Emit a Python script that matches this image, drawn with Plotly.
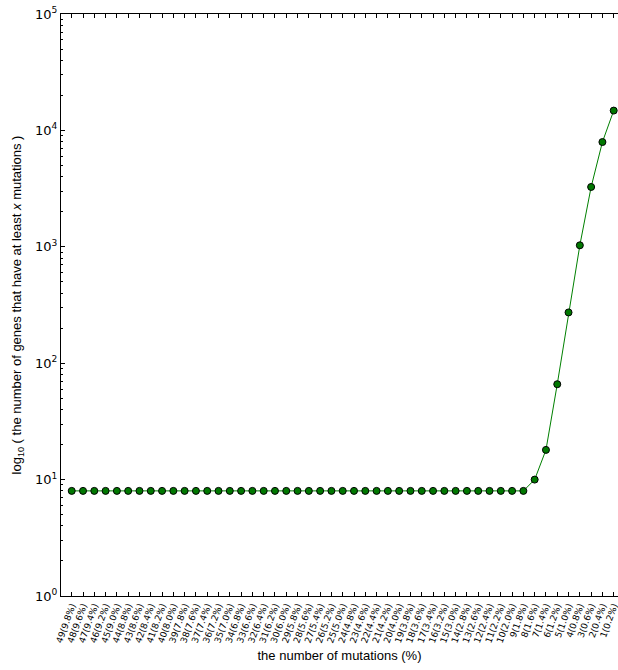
import plotly.graph_objects as go

mutations = [49, 48, 47, 46, 45, 44, 43, 42, 41, 40, 39, 38, 37, 36, 35, 34, 33, 32, 31, 30,
             29, 28, 27, 26, 25, 24, 23, 22, 21, 20, 19, 18, 17, 16, 15, 14, 13, 12, 11, 10,
             9, 8, 7, 6, 5, 4, 3, 2, 1]
percents = ["9.8", "9.6", "9.4", "9.2", "9.0", "8.8", "8.6", "8.4", "8.2", "8.0",
            "7.8", "7.6", "7.4", "7.2", "7.0", "6.8", "6.6", "6.4", "6.2", "6.0",
            "5.8", "5.6", "5.4", "5.2", "5.0", "4.8", "4.6", "4.4", "4.2", "4.0",
            "3.8", "3.6", "3.4", "3.2", "3.0", "2.8", "2.6", "2.4", "2.2", "2.0",
            "1.8", "1.6", "1.4", "1.2", "1.0", "0.8", "0.6", "0.4", "0.2"]
gene_counts = [8, 8, 8, 8, 8, 8, 8, 8, 8, 8,
               8, 8, 8, 8, 8, 8, 8, 8, 8, 8,
               8, 8, 8, 8, 8, 8, 8, 8, 8, 8,
               8, 8, 8, 8, 8, 8, 8, 8, 8, 8,
               8, 10, 18, 66, 273, 1030, 3265, 7940, 14800]

labels = [f"{m}({p}%)" for m, p in zip(mutations, percents)]

y_tickvals = [1, 10, 100, 1000, 10000, 100000]
y_ticktext = ["10<sup>0</sup>", "10<sup>1</sup>", "10<sup>2</sup>",
              "10<sup>3</sup>", "10<sup>4</sup>", "10<sup>5</sup>"]
minor_vals = [m * 10 ** e for e in range(5) for m in range(2, 10)]

fig = go.Figure()
fig.add_trace(go.Scatter(
    x=labels, y=gene_counts, mode="lines+markers",
    line=dict(color="#008000", width=1),
    marker=dict(color="#007800", size=7, line=dict(color="black", width=1)),
    showlegend=False, cliponaxis=False,
))

fig.update_layout(
    width=618, height=670,
    margin=dict(l=61, r=0, t=14, b=74),
    paper_bgcolor="white", plot_bgcolor="white",
    font=dict(family="DejaVu Sans", color="black"),
    xaxis=dict(
        type="category", range=[-0.95, 48.38], automargin=False,
        tickmode="array", tickvals=labels, ticktext=labels,
        showline=True, linecolor="black", linewidth=1, mirror="ticks",
        ticks="inside", ticklen=4, tickcolor="black", tickwidth=1,
        tickangle=-70, tickfont=dict(size=9, family="DejaVu Sans"),
        showgrid=False, zeroline=False,
        title=dict(text="the number of mutations (%)",
                   font=dict(family="Liberation Sans, Arial", size=13), standoff=7),
    ),
    yaxis=dict(
        type="log", range=[0, 5], automargin=False,
        tickmode="array", tickvals=y_tickvals, ticktext=y_ticktext,
        showline=True, linecolor="black", linewidth=1, mirror=False,
        ticks="inside", ticklen=4, tickcolor="black", tickwidth=1,
        tickfont=dict(size=13, family="DejaVu Sans"),
        minor=dict(tickmode="array", tickvals=minor_vals, ticks="inside",
                   ticklen=2, tickcolor="black", tickwidth=1, showgrid=False),
        showgrid=False, zeroline=False,
        title=dict(text="log<sub>10</sub> ( the number of genes that have at least <i>x</i> mutations )",
                   font=dict(family="Liberation Sans, Arial", size=13), standoff=10),
    ),
)

fig.write_html("out.html", config={"displayModeBar": False},
               post_script="document.body.style.margin='0';document.body.style.overflow='hidden';")
